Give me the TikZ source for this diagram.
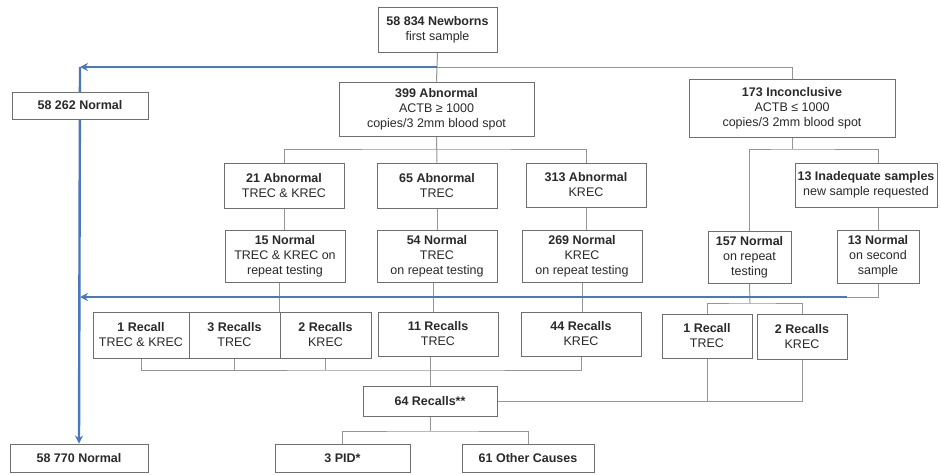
\documentclass[tikz,border=0pt]{standalone}
\usepackage{fontspec}
\setmainfont{Liberation Sans}
\usetikzlibrary{arrows.meta,backgrounds,calc}
\definecolor{boxgray}{HTML}{6F6F6F}
\definecolor{conngray}{HTML}{959595}
\definecolor{flowblue}{HTML}{4A78BE}
\definecolor{txt}{HTML}{2A2A2A}
\tikzset{
  box/.style={draw=boxgray, line width=0.9pt, fill=white, align=center, inner sep=0pt,
    text=txt, font=\fontsize{12.5}{15}\selectfont},
  conn/.style={draw=conngray, line width=1pt},
  blueline/.style={draw=flowblue, line width=2.4pt},
  bluearrow/.style={blueline, -{Stealth[length=8pt,width=8pt]}},
}
\begin{document}
\begin{tikzpicture}[x=1pt,y=-1pt]
\useasboundingbox (0,0) rectangle (941,474);

% row 0/1
\node[box, minimum width=119pt, minimum height=45pt] (nb) at (437.5,29.5) {\textbf{58 834 Newborns}\\first sample};
\node[box, minimum width=136pt, minimum height=27pt] (n1) at (80,105.5) {\textbf{58 262 Normal}};
\node[box, minimum width=195pt, minimum height=54pt] (ab) at (436.5,109) {\textbf{399 Abnormal}\\ACTB ≥ 1000\\copies/3 2mm blood spot};
\node[box, minimum width=206pt, minimum height=58pt] (inc) at (792,108) {\textbf{173 Inconclusive}\\ACTB ≤ 1000\\copies/3 2mm blood spot};

% row 2
\node[box, minimum width=120pt, minimum height=45pt] (a21) at (284,185.5) {\textbf{21 Abnormal}\\TREC \& KREC};
\node[box, minimum width=120pt, minimum height=45pt] (a65) at (437,185.5) {\textbf{65 Abnormal}\\TREC};
\node[box, minimum width=120pt, minimum height=44pt] (a313) at (586,185) {\textbf{313 Abnormal}\\KREC};
\node[box, minimum width=142pt, minimum height=44pt] (inad) at (866,185) {\textbf{13 Inadequate samples}\\new sample requested};

% row 3
\node[box, minimum width=120pt, minimum height=52pt] (n15) at (285,256) {\textbf{15 Normal}\\TREC \& KREC on\\repeat testing};
\node[box, minimum width=120pt, minimum height=52pt] (n54) at (437,256) {\textbf{54 Normal}\\TREC\\on repeat testing};
\node[box, minimum width=120pt, minimum height=52pt] (n269) at (582,256) {\textbf{269 Normal}\\KREC\\on repeat testing};
\node[box, minimum width=83pt, minimum height=52pt] (n157) at (749.5,257) {\textbf{157 Normal}\\on repeat\\testing};
\node[box, minimum width=82pt, minimum height=53pt] (n13) at (878,256.5) {\textbf{13 Normal}\\on second\\sample};

% row 4
\node[box, minimum width=96pt, minimum height=46pt] (r1) at (141,335) {\textbf{1 Recall}\\TREC \& KREC};
\node[box, minimum width=91pt, minimum height=46pt] (r3) at (234.5,335) {\textbf{3 Recalls}\\TREC};
\node[box, minimum width=91pt, minimum height=46pt] (r2) at (325.5,335) {\textbf{2 Recalls}\\KREC};
\node[box, minimum width=120pt, minimum height=44pt] (r11) at (438,334) {\textbf{11 Recalls}\\TREC};
\node[box, minimum width=120pt, minimum height=44pt] (r44) at (581,334) {\textbf{44 Recalls}\\KREC};
\node[box, minimum width=90pt, minimum height=44pt] (r1t) at (707,336) {\textbf{1 Recall}\\TREC};
\node[box, minimum width=90pt, minimum height=45pt] (r2k) at (802,336.5) {\textbf{2 Recalls}\\KREC};

% row 5/6
\node[box, minimum width=134pt, minimum height=30pt] (r64) at (430,401) {\textbf{64 Recalls**}};
\node[box, minimum width=138pt, minimum height=28pt] (n58770) at (79,458) {\textbf{58 770 Normal}};
\node[box, minimum width=135pt, minimum height=28pt] (pid) at (342.5,458) {\textbf{3 PID*}};
\node[box, minimum width=132pt, minimum height=28pt] (oth) at (528,458) {\textbf{61 Other Causes}};

% junction coordinates
\coordinate (j1) at (437,67);
\coordinate (c1) at (80,67);
\coordinate (j2) at (437,149);
\coordinate (j3) at (792,149);
\coordinate (j4) at (750,303);
\coordinate (b2) at (847,297);
\coordinate (c2) at (80,297);
\coordinate (j5) at (430,370);
\coordinate (j6) at (430,431);
\coordinate (x54) at (433,0);

\begin{scope}[on background layer]
  \fill[white] (0,0) rectangle (941,474);
  % top
  \draw[conn] (nb.south) -- (ab.north);
  \draw[conn] (j1) -| (inc.north);
  \draw[conn] (a21.north) |- (j2) -| (a313.north);
  \draw[conn] (ab.south) -- (a65.north);
  \draw[conn] (inc.south) -- (j3);
  \draw[conn] (n157.north) |- (j3) -| (inad.north -| n13.north);
  % row 2 -> row 3
  \draw[conn] (a21.south) -- (a21.south |- n15.north);
  \draw[conn] (a65.south) -- (n54.north);
  \draw[conn] (a313.south) -- (a313.south |- n269.north);
  \draw[conn] (n13.north |- inad.south) -- (n13.north);
  % row 3 -> row 4
  \draw[conn] (n15.south -| r2.north west) -- (r2.north west);
  \draw[conn] (n54.south -| x54) -- (x54 |- r11.north);
  \draw[conn] (n269.south) -- (n269.south |- r44.north);
  \draw[conn] (n157.south) -- (j4);
  \draw[conn] (r1t.north) |- (j4) -| (r2k.north);
  \draw[conn] (n13.south) |- (b2);
  % row 4 -> 64
  \draw[conn] (r1.south) |- (j5) -| (r44.south);
  \draw[conn] (r3.south) -- (r3.south |- j5);
  \draw[conn] (r2.south) -- (r2.south |- j5);
  \draw[conn] (r64.north |- r11.south) -- (r64.north);
  \draw[conn] (r64.east) -| (r2k.south);
  \draw[conn] (r1t.south) -- (r1t.south |- r64.east);
  % 64 -> outcomes
  \draw[conn] (r64.south) -- (j6);
  \draw[conn] (pid.north) |- (j6) -| (oth.north);
  % blue flow
  \draw[bluearrow] (j1) -- (c1);
  \draw[bluearrow] (c1) -- (n58770.north);
  \draw[bluearrow] (b2) -- (c2);
\end{scope}
\end{tikzpicture}
\end{document}
